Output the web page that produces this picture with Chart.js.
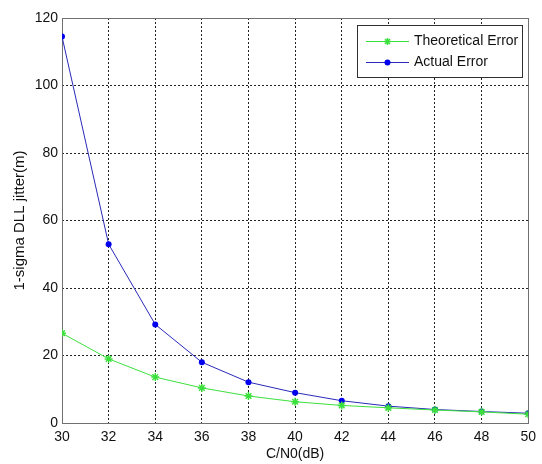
<!DOCTYPE html>
<html>
<head>
<meta charset="utf-8">
<script src="https://cdn.jsdelivr.net/npm/chart.js@4"></script>
<style>
html,body{margin:0;padding:0;background:#fff;}
#wrap{position:relative;width:542px;height:464px;}
</style>
</head>
<body>
<div id="wrap"><canvas id="c" width="542" height="464"></canvas></div>
<script>
const cn0 = [30, 32, 34, 36, 38, 40, 42, 44, 46, 48, 50];
const theoreticalError = [26.6, 19.0, 13.6, 10.4, 8.0, 6.3, 5.2, 4.5, 3.85, 3.3, 2.6];
const actualError = [114.5, 53.0, 29.2, 18.0, 12.1, 9.0, 6.6, 5.0, 4.0, 3.4, 2.9];
const seriesNames = ['Theoretical Error', 'Actual Error'];
const xTitle = 'C/N0(dB)';
const yTitle = '1-sigma DLL jitter(m)';

const FONT = '"Liberation Sans", Arial, sans-serif';
const GREEN = '#3ce03c';
const BLUE_LINE = '#2a2ab8';
const BLUE_PT = '#0000ee';

const frame = {
  id: 'frame',
  beforeDatasetsDraw(chart) {
    const {ctx, chartArea: a} = chart;
    ctx.save();
    ctx.strokeStyle = '#707070';
    ctx.lineWidth = 1;
    ctx.setLineDash([]);
    ctx.strokeRect(Math.round(a.left) + 0.5, Math.round(a.top) + 0.5,
      Math.round(a.right - a.left), Math.round(a.bottom - a.top));
    ctx.restore();
  },
  afterDraw(chart) {
    const {ctx} = chart;
    ctx.save();
    // legend box
    const bx = 357, by = 25, bw = 165, bh = 52;
    ctx.fillStyle = '#fff';
    ctx.fillRect(bx, by, bw, bh);
    ctx.strokeStyle = '#303030';
    ctx.lineWidth = 1;
    ctx.strokeRect(bx + 0.5, by + 0.5, bw, bh);
    const rows = [
      {y: 41.5, color: GREEN, ptColor: GREEN, star: true, label: seriesNames[0]},
      {y: 62.5, color: BLUE_LINE, ptColor: BLUE_PT, star: false, label: seriesNames[1]}
    ];
    rows.forEach(r => {
      ctx.strokeStyle = r.color;
      ctx.lineWidth = 1;
      ctx.beginPath();
      ctx.moveTo(366, r.y); ctx.lineTo(409, r.y);
      ctx.stroke();
      if (r.star) {
        ctx.strokeStyle = r.ptColor;
        ctx.lineWidth = 1.5;
        ctx.beginPath();
        const cx = 387.5, cy = r.y, s = 3.5;
        ctx.moveTo(cx - s, cy); ctx.lineTo(cx + s, cy);
        ctx.moveTo(cx, cy - s); ctx.lineTo(cx, cy + s);
        ctx.moveTo(cx - s * 0.7, cy - s * 0.7); ctx.lineTo(cx + s * 0.7, cy + s * 0.7);
        ctx.moveTo(cx - s * 0.7, cy + s * 0.7); ctx.lineTo(cx + s * 0.7, cy - s * 0.7);
        ctx.stroke();
      } else {
        ctx.fillStyle = r.ptColor;
        ctx.beginPath();
        ctx.arc(387.5, r.y, 3, 0, Math.PI * 2);
        ctx.fill();
      }
      ctx.fillStyle = '#111';
      ctx.font = '14px ' + FONT;
      ctx.textBaseline = 'middle';
      ctx.textAlign = 'left';
      ctx.fillText(r.label, 414, r.y);
    });
    ctx.restore();
  }
};

new Chart(document.getElementById('c'), {
  type: 'line',
  data: {
    datasets: [
      {
        label: seriesNames[0],
        data: cn0.map((x, i) => ({x, y: theoreticalError[i]})),
        borderColor: GREEN,
        backgroundColor: GREEN,
        borderWidth: 1,
        pointStyle: 'star',
        pointRadius: 4,
        pointBorderWidth: 1.5,
        pointBorderColor: GREEN,
        tension: 0
      },
      {
        label: seriesNames[1],
        data: cn0.map((x, i) => ({x, y: actualError[i]})),
        borderColor: BLUE_LINE,
        backgroundColor: BLUE_PT,
        borderWidth: 1,
        pointStyle: 'circle',
        pointRadius: 3,
        pointBorderWidth: 0,
        pointBackgroundColor: BLUE_PT,
        tension: 0
      }
    ]
  },
  options: {
    responsive: false,
    animation: false,
    devicePixelRatio: 1,
    layout: {padding: {left: 0, right: 13, top: 18, bottom: 0}},
    plugins: {legend: {display: false}, tooltip: {enabled: false}},
    scales: {
      x: {
        type: 'linear',
        min: 30, max: 50,
        afterFit(s) { s.height = 41; },
        ticks: {stepSize: 2, padding: 6, color: '#111', font: {family: FONT, size: 14}},
        grid: {color: '#222', drawTicks: false, tickLength: 0},
        border: {display: false, dash: [2, 2]},
        title: {display: true, text: xTitle, color: '#111', font: {family: FONT, size: 14}, padding: {top: 0, bottom: 1}}
      },
      y: {
        min: 0, max: 120,
        afterFit(s) { s.width = 62; },
        ticks: {stepSize: 20, padding: 4, color: '#111', font: {family: FONT, size: 14}},
        grid: {color: '#222', drawTicks: false, tickLength: 0},
        border: {display: false, dash: [2, 2]},
        title: {display: true, text: yTitle, color: '#111', font: {family: FONT, size: 15}, padding: {top: 11, bottom: 0}}
      }
    }
  },
  plugins: [frame]
});
</script>
</body>
</html>
